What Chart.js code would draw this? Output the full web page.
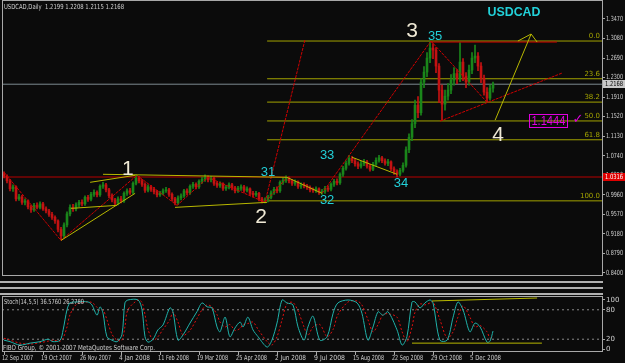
<!DOCTYPE html>
<html>
<head>
<meta charset="utf-8">
<script src="https://cdn.jsdelivr.net/npm/chart.js@4/dist/chart.umd.min.js"></script>
<style>
html, body { margin: 0; padding: 0; background: #0b0b0b; }
#wrap { position: relative; width: 625px; height: 363px; background: #0b0b0b; overflow: hidden; }
#main { position: absolute; left: 0; top: 0; }
#stoch { position: absolute; left: 0; top: 296px; }
.sep { position: absolute; left: 0; width: 603px; height: 2px; background: #b0b0b0; }
</style>
</head>
<body>
<div id="wrap">
  <canvas id="main" width="625" height="277"></canvas>
  <div class="sep" style="top:281px"></div>
  <div class="sep" style="top:287px"></div>
  <div class="sep" style="top:293px"></div>
  <canvas id="stoch" width="625" height="67"></canvas>
</div>
<script>
// price axis / date axis
const priceTicks = [1.3470, 1.3080, 1.2690, 1.2300, 1.1910, 1.1520, 1.1130, 1.0740, 1.0350, 0.9960, 0.9570, 0.9180, 0.8790, 0.8400];
const dateLabels = ['12 Sep 2007', '19 Oct 2007', '26 Nov 2007', '4 Jan 2008', '11 Feb 2008', '19 Mar 2008', '25 Apr 2008',
                    '2 Jun 2008', '9 Jul 2008', '15 Aug 2008', '22 Sep 2008', '29 Oct 2008', '5 Dec 2008'];
const dateIdx = [0, 13, 26, 39, 52, 65, 78, 91, 104, 117, 130, 143, 156];
const stochTicks = [0, 20, 80, 100];

// USDCAD candles (one bar per two sessions)
const opens = [
  1.038,1.033,1.024,1.008,1.012,0.988,0.992,0.981,0.984,0.972,
  0.966,0.975,0.971,0.978,0.968,0.964,0.957,0.951,0.944,0.927,
  0.914,0.936,0.958,0.971,0.968,0.976,0.981,0.978,0.991,0.987,
  0.997,1.001,0.996,1.013,1.016,1.006,0.994,0.986,0.979,0.988,
  0.984,0.999,1.004,1.001,1.019,1.029,1.024,1.017,1.005,1.012,
  1.007,1.002,0.996,0.999,1.004,1.006,0.997,0.988,0.980,0.990,
  0.994,1.004,1.000,1.013,1.017,1.012,1.023,1.027,1.031,1.026,
  1.029,1.019,1.015,1.018,1.009,1.011,1.016,1.010,1.004,1.009,
  1.012,1.005,1.008,0.999,0.996,0.999,0.988,0.983,0.986,0.991,
  1.000,1.007,1.004,1.021,1.025,1.029,1.024,1.019,1.022,1.013,
  1.016,1.014,1.011,1.006,1.005,1.008,1.001,1.003,1.009,1.007,
  1.017,1.023,1.020,1.037,1.049,1.059,1.069,1.064,1.058,1.053,
  1.058,1.062,1.053,1.047,1.057,1.065,1.070,1.064,1.059,1.062,
  1.048,1.042,1.037,1.045,1.055,1.086,1.111,1.138,1.175,1.160,
  1.221,1.241,1.269,1.289,1.285,1.253,1.205,1.177,1.193,1.205,
  1.225,1.238,1.229,1.261,1.233,1.221,1.245,1.269,1.273,1.253,
  1.229,1.201,1.189,1.209];
const highs = [
  1.042,1.036,1.027,1.016,1.014,0.997,0.995,0.988,0.986,0.975,
  0.979,0.980,0.982,0.981,0.972,0.967,0.961,0.954,0.946,0.931,
  0.940,0.962,0.976,0.977,0.980,0.985,0.986,0.994,0.995,1.001,
  1.006,1.004,1.016,1.021,1.019,1.009,0.998,0.989,0.992,0.993,
  1.002,1.008,1.009,1.022,1.036,1.033,1.027,1.020,1.016,1.015,
  1.011,1.005,1.003,1.008,1.011,1.009,1.000,0.991,0.994,0.998,
  1.007,1.008,1.016,1.021,1.020,1.026,1.031,1.036,1.034,1.033,
  1.031,1.022,1.022,1.020,1.015,1.020,1.019,1.013,1.013,1.016,
  1.015,1.012,1.010,1.003,1.003,1.001,0.991,0.990,0.995,1.004,
  1.011,1.012,1.024,1.029,1.034,1.032,1.027,1.026,1.024,1.020,
  1.020,1.017,1.014,1.010,1.012,1.010,1.007,1.013,1.014,1.020,
  1.027,1.028,1.040,1.053,1.064,1.075,1.073,1.068,1.062,1.063,
  1.067,1.065,1.057,1.061,1.070,1.075,1.073,1.068,1.067,1.064,
  1.052,1.046,1.049,1.060,1.092,1.118,1.146,1.185,1.192,1.228,
  1.252,1.280,1.303,1.298,1.290,1.258,1.215,1.205,1.218,1.236,
  1.250,1.246,1.300,1.268,1.240,1.255,1.280,1.295,1.280,1.260,
  1.235,1.210,1.215,1.221];
const lows = [
  1.030,1.020,1.004,1.003,0.984,0.985,0.977,0.976,0.968,0.961,
  0.963,0.968,0.968,0.965,0.960,0.953,0.947,0.939,0.922,0.906,
  0.910,0.932,0.954,0.963,0.964,0.972,0.974,0.975,0.983,0.984,
  0.993,0.992,0.993,1.009,1.002,0.990,0.982,0.975,0.976,0.980,
  0.981,0.995,0.997,0.998,1.016,1.020,1.013,1.001,1.002,1.003,
  0.998,0.992,0.993,0.996,1.001,0.993,0.984,0.976,0.977,0.986,
  0.991,0.996,0.997,1.009,1.008,1.009,1.019,1.023,1.022,1.022,
  1.015,1.011,1.011,1.005,1.005,1.008,1.006,1.000,1.001,1.005,
  1.001,1.002,0.995,0.992,0.993,0.984,0.980,0.980,0.982,0.988,
  0.997,1.000,1.001,1.017,1.021,1.020,1.015,1.015,1.009,1.009,
  1.010,1.007,1.002,1.001,1.001,0.997,0.997,0.999,1.003,1.004,
  1.013,1.016,1.017,1.033,1.045,1.055,1.060,1.053,1.048,1.049,
  1.054,1.049,1.043,1.044,1.053,1.061,1.060,1.055,1.054,1.044,
  1.037,1.032,1.034,1.041,1.051,1.080,1.104,1.130,1.150,1.155,
  1.210,1.232,1.260,1.268,1.240,1.180,1.145,1.165,1.185,1.198,
  1.215,1.218,1.222,1.224,1.210,1.215,1.238,1.260,1.244,1.220,
  1.195,1.182,1.185,1.201];
const closes = [
  1.033,1.024,1.008,1.012,0.988,0.992,0.981,0.984,0.972,0.966,
  0.975,0.971,0.978,0.968,0.964,0.957,0.951,0.944,0.927,0.914,
  0.936,0.958,0.971,0.968,0.976,0.981,0.978,0.991,0.987,0.997,
  1.001,0.996,1.013,1.016,1.006,0.994,0.986,0.979,0.988,0.984,
  0.999,1.004,1.001,1.019,1.029,1.024,1.017,1.005,1.012,1.007,
  1.002,0.996,0.999,1.004,1.006,0.997,0.988,0.980,0.990,0.994,
  1.004,1.000,1.013,1.017,1.012,1.023,1.027,1.031,1.026,1.029,
  1.019,1.015,1.018,1.009,1.011,1.016,1.010,1.004,1.009,1.012,
  1.005,1.008,0.999,0.996,0.999,0.988,0.983,0.986,0.991,1.000,
  1.007,1.004,1.021,1.025,1.029,1.024,1.019,1.022,1.013,1.016,
  1.014,1.011,1.006,1.005,1.008,1.001,1.003,1.009,1.007,1.017,
  1.023,1.020,1.037,1.049,1.059,1.069,1.064,1.058,1.053,1.058,
  1.062,1.053,1.047,1.057,1.065,1.070,1.064,1.059,1.062,1.048,
  1.042,1.037,1.045,1.055,1.086,1.111,1.138,1.175,1.160,1.221,
  1.241,1.269,1.289,1.285,1.253,1.205,1.177,1.193,1.205,1.225,
  1.238,1.229,1.261,1.233,1.221,1.245,1.269,1.273,1.253,1.229,
  1.201,1.189,1.209,1.217];

const bidPrice = 1.2168;
const redLevel = 1.0316;

// fibo retracement
const fibNames = ['0.0', '23.6', '38.2', '50.0', '61.8', '100.0'];
const fibPrices = [1.3030, 1.2277, 1.1811, 1.1435, 1.1059, 0.9840];
const fibFrom = 87.7;

// drawn objects: [bar1, price1, bar2, price2]
const redDotted = [
  [0, 1.041, 19, 0.905], [19, 0.905, 44.3, 1.035], [44.3, 1.035, 57.7, 0.975], [57.7, 0.975, 68, 1.031],
  [68, 1.031, 87, 0.981], [87, 0.981, 94.3, 1.031], [87, 0.981, 100.3, 1.305], [106, 0.999, 142.3, 1.303],
  [142.3, 1.303, 161, 1.181], [145.3, 1.143, 186, 1.239]];
const redSolid = [[142.3, 1.301, 184.3, 1.301]];
const yellowSegs = [
  [19, 0.905, 43.7, 0.999], [22.3, 0.969, 37.7, 0.975], [28.7, 1.021, 43.7, 1.035], [33, 1.037, 94.3, 1.031],
  [57, 0.971, 87.7, 0.981], [94.3, 1.031, 106, 0.999], [116, 1.071, 131, 1.037],
  [163.7, 1.145, 175.7, 1.317], [171.3, 1.303, 175.7, 1.317], [175.7, 1.317, 177.7, 1.301]];

// wave labels
const waveText = ['1', '2', '3', '4'];
const waveX = [41.3, 85.7, 136, 164.7];
const waveY = [1.047, 0.951, 1.323, 1.115];
const subText = ['31', '32', '33', '34', '35'];
const subX = [88, 107.7, 107.7, 132.3, 143.7];
const subY = [1.041, 0.985, 1.075, 1.019, 1.313];
const targetText = '1.1444';
const targetX = 181.3, targetY = 1.143;

// stochastic (14,5,5)
const stochIdx = [0,2,5.3,8.7,12,14.7,16.3,18.7,19.7,21,22,24.3,28,29.3,31,32,33,34.3,36,37.7,
  39.3,40.3,41.3,44.7,46,47,48,49.7,51.3,53,55.3,56.3,58,59.7,62,64.3,66,67.7,69.3,71,
  72,73.7,75.3,77,78.7,79.7,81.3,83,84.7,87.7,89.3,91,92.7,94.3,96.3,98,100,101.3,103,105.3,
  107.7,109.7,111.3,114.7,117.7,119.3,121.3,123,124.7,126.3,128,131,132.7,134.3,136,137,138.7,140.3,142,143,
  145.3,147.7,149.7,151.3,153,155.3,157,158.7,161,162,163];
const stochK = [18,15,8,12,15,20,15,18,39,80,94,96,96,90,69,86,73,25,18,15,
  29,94,100,100,80,25,14,20,39,49,84,76,18,29,53,76,94,86,84,45,
  35,65,25,43,55,45,65,39,25,4,18,53,100,94,90,45,18,45,67,18,
  25,73,94,100,94,73,18,45,76,69,76,39,8,25,96,96,84,94,100,94,
  18,18,65,96,80,35,53,45,14,16,36.6];
const stochD = [22,18,12,10,13,16,18,16,22,45,70,92,96,95,85,78,80,60,30,18,
  18,45,80,100,95,70,40,18,25,40,60,75,55,28,38,62,80,90,86,70,
  55,45,50,38,42,50,52,55,40,15,8,25,60,92,95,78,45,28,45,50,
  25,40,70,96,98,90,60,35,50,70,72,65,35,15,45,75,92,90,94,97,
  60,22,35,65,88,65,45,48,35,22,26.3];
const stochLevels = [20, 80];
const stochYellow = [[142.7, 98, 177.7, 104], [136, 12, 179.3, 12]];

const X_MIN = -0.67, X_MAX = 199.33;
const BULL = '#1a861a', BEAR = '#c41212';
const RED = '#d00000', YEL = '#b8b800', FIB = '#a3a300';
const AXIS = '#a8a8a8', TXT = '#d0d0d0';

function seg(s, color, dash, order) {
  return {
    type: 'line',
    data: [{x: s[0], y: s[1]}, {x: s[2], y: s[3]}],
    borderColor: color, borderWidth: 1, borderDash: dash || [],
    pointRadius: 0, tension: 0, order: order === undefined ? 0 : order
  };
}

const candleColors = closes.map((c, i) => c >= opens[i] ? BULL : BEAR);

const mainSets = [];
fibPrices.forEach(p => mainSets.push(seg([fibFrom, p, X_MAX, p], FIB, [], 6)));
mainSets.push(seg([X_MIN, bidPrice, X_MAX, bidPrice], '#7d8a90', [], 6));
mainSets.push(seg([X_MIN, redLevel, X_MAX, redLevel], '#b80000', [], 6));
mainSets.push({
  type: 'bar', data: highs.map((h, i) => ({x: i, y: [lows[i], h]})),
  backgroundColor: candleColors, barThickness: 1, grouped: false, order: 5
});
mainSets.push({
  type: 'bar', data: opens.map((o, i) => ({x: i, y: [o, closes[i]]})),
  backgroundColor: candleColors, barThickness: 2, minBarLength: 1, grouped: false, order: 4
});
redDotted.forEach(s => mainSets.push(seg(s, RED, [3, 1], 1)));
redSolid.forEach(s => mainSets.push(seg(s, RED, [], 1)));
yellowSegs.forEach(s => mainSets.push(seg(s, YEL, [], 0)));

function frame(ctx, a) {
  ctx.strokeStyle = AXIS; ctx.lineWidth = 1;
  ctx.strokeRect(a.left + 0.5, a.top - 0.5, a.right - a.left, a.bottom - a.top);
}

function priceBox(ctx, y, text, bg, fg) {
  ctx.fillStyle = bg;
  ctx.fillRect(603, Math.round(y) - 4, 22, 8);
  ctx.fillStyle = fg;
  ctx.textAlign = 'left';
  ctx.fillText(text, 605, y, 18);
}

const mainPlugin = {
  id: 'mainText',
  afterDatasetsDraw(chart) {
    const {ctx, chartArea: a, scales: {x, y}} = chart;
    ctx.save();
    ctx.font = '7px "DejaVu Sans"'; ctx.fillStyle = FIB;
    ctx.textAlign = 'right'; ctx.textBaseline = 'bottom';
    fibNames.forEach((t, i) => ctx.fillText(t, a.right - 2, y.getPixelForValue(fibPrices[i]) - 1));

    ctx.textAlign = 'center'; ctx.textBaseline = 'middle';
    ctx.font = '21px "Liberation Sans"'; ctx.fillStyle = '#f0ead6';
    waveText.forEach((t, i) => ctx.fillText(t, x.getPixelForValue(waveX[i]), y.getPixelForValue(waveY[i])));
    ctx.font = '13px "Liberation Sans"'; ctx.fillStyle = '#22d0d8';
    subText.forEach((t, i) => ctx.fillText(t, x.getPixelForValue(subX[i]), y.getPixelForValue(subY[i])));
    ctx.font = 'bold 13px "Liberation Sans"';
    ctx.fillText('USDCAD', x.getPixelForValue(170), y.getPixelForValue(1.361), 53);

    const tx = x.getPixelForValue(targetX), ty = y.getPixelForValue(targetY);
    ctx.strokeStyle = '#e000e0'; ctx.lineWidth = 1;
    ctx.strokeRect(Math.round(tx) - 18.5, Math.round(ty) - 6.5, 38, 13);
    ctx.fillStyle = '#e000e0'; ctx.font = '12px "Liberation Sans"';
    ctx.fillText(targetText, tx + 0.5, ty + 0.5, 34);
    ctx.font = '13px "DejaVu Sans"';
    ctx.fillText('\u2713', x.getPixelForValue(191.3), y.getPixelForValue(1.147));
    ctx.restore();
  },
  afterDraw(chart) {
    const {ctx, chartArea: a, scales: {y}} = chart;
    ctx.save();
    frame(ctx, a);
    ctx.font = '7px "DejaVu Sans"'; ctx.textBaseline = 'middle';
    ctx.fillStyle = TXT; ctx.textAlign = 'left';
    ctx.fillText('USDCAD,Daily  1.2199 1.2208 1.2115 1.2168', 4, 7, 120);
    priceTicks.forEach(v => ctx.fillText(v.toFixed(4), 606, y.getPixelForValue(v), 17));
    priceBox(ctx, y.getPixelForValue(bidPrice), bidPrice.toFixed(4), '#c8c8c8', '#000000');
    priceBox(ctx, y.getPixelForValue(redLevel), redLevel.toFixed(4), '#e00000', '#ffffff');
    ctx.restore();
  }
};

new Chart(document.getElementById('main'), {
  type: 'bar',
  data: {datasets: mainSets},
  options: {
    responsive: false, animation: false, events: [],
    layout: {padding: {left: 2, top: 1, right: 0, bottom: 1}},
    plugins: {legend: {display: false}, tooltip: {enabled: false}},
    scales: {
      x: {type: 'linear', min: X_MIN, max: X_MAX, offset: false, display: false},
      y: {
        position: 'right', min: 0.834, max: 1.3829,
        afterBuildTicks: s => { s.ticks = priceTicks.map(v => ({value: v})); },
        afterFit: s => { s.width = 23; },
        ticks: {display: false},
        grid: {drawOnChartArea: false, tickLength: 3, color: AXIS},
        border: {display: false}
      }
    }
  },
  plugins: [mainPlugin]
});

// stochastic window
const stochSets = [];
stochLevels.forEach(v => stochSets.push(seg([X_MIN, v, X_MAX, v], '#8a8a8a', [2, 3], 5)));
stochSets.push({
  type: 'line', data: stochIdx.map((v, i) => ({x: v, y: stochD[i]})),
  borderColor: '#e01010', borderWidth: 1, borderDash: [2, 2], pointRadius: 0,
  tension: 0.3, order: 2
});
stochSets.push({
  type: 'line', data: stochIdx.map((v, i) => ({x: v, y: stochK[i]})),
  borderColor: '#20b2aa', borderWidth: 1, pointRadius: 0,
  tension: 0.3, order: 1
});
stochYellow.forEach(s => stochSets.push(seg(s, YEL, [], 0)));

const stochPlugin = {
  id: 'stochText',
  afterDraw(chart) {
    const {ctx, chartArea: a, scales: {x, y}} = chart;
    ctx.save();
    frame(ctx, a);
    ctx.font = '7px "DejaVu Sans"'; ctx.textBaseline = 'middle';
    ctx.fillStyle = TXT; ctx.textAlign = 'left';
    ctx.fillText('Stoch(14,5,5) 36.5760 26.2780', 4, 6, 80);
    ctx.fillText('FIBO Group, \u00a9 2001-2007 MetaQuotes Software Corp.', 3, 52, 152);
    stochTicks.forEach(v => ctx.fillText(String(v), 606, y.getPixelForValue(v), 17));
    dateIdx.forEach((v, i) => ctx.fillText(dateLabels[i], x.getPixelForValue(v) - 2, 62, 31));
    ctx.restore();
  }
};

new Chart(document.getElementById('stoch'), {
  type: 'line',
  data: {datasets: stochSets},
  options: {
    responsive: false, animation: false, events: [],
    layout: {padding: {left: 2, top: 1, right: 0, bottom: 0}},
    plugins: {legend: {display: false}, tooltip: {enabled: false}},
    scales: {
      x: {
        type: 'linear', min: X_MIN, max: X_MAX, offset: false,
        afterBuildTicks: s => { s.ticks = dateIdx.map(v => ({value: v})); },
        afterFit: s => { s.height = 11; },
        ticks: {display: false},
        grid: {drawOnChartArea: false, tickLength: 3, color: AXIS},
        border: {display: false}
      },
      y: {
        position: 'right', min: -6.1, max: 106.1,
        afterBuildTicks: s => { s.ticks = stochTicks.map(v => ({value: v})); },
        afterFit: s => { s.width = 23; },
        ticks: {display: false},
        grid: {drawOnChartArea: false, tickLength: 3, color: AXIS},
        border: {display: false}
      }
    }
  },
  plugins: [stochPlugin]
});
</script>
</body>
</html>
